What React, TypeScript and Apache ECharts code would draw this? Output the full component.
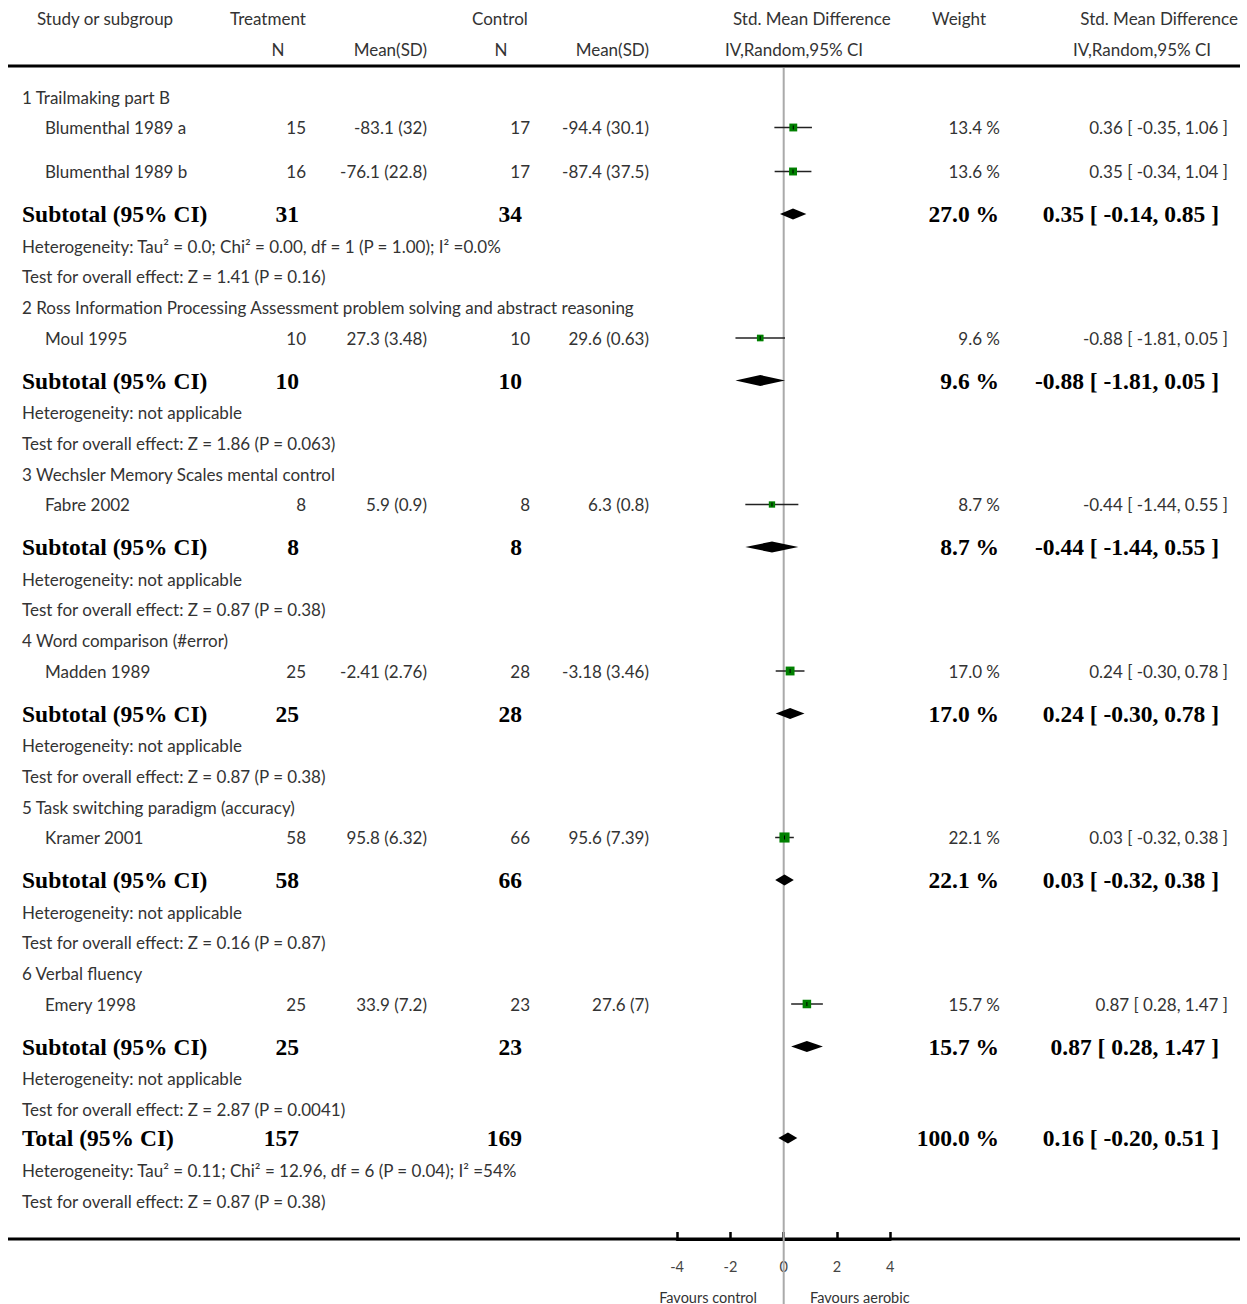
import React, { useEffect, useRef } from "react";
import * as echarts from "echarts";

// ---------- data ----------
const groupTitles = [
  "1 Trailmaking part B",
  "2 Ross Information Processing Assessment problem solving and abstract reasoning",
  "3 Wechsler Memory Scales mental control",
  "4 Word comparison (#error)",
  "5 Task switching paradigm (accuracy)",
  "6 Verbal fluency",
];
const studyNames = ["Blumenthal 1989 a", "Blumenthal 1989 b", "Moul 1995", "Fabre 2002", "Madden 1989", "Kramer 2001", "Emery 1998"];
const studyGroup = [0, 0, 1, 2, 3, 4, 5];
const treatN = [15, 16, 10, 8, 25, 58, 25];
const treatMeanSD = ["-83.1 (32)", "-76.1 (22.8)", "27.3 (3.48)", "5.9 (0.9)", "-2.41 (2.76)", "95.8 (6.32)", "33.9 (7.2)"];
const ctrlN = [17, 17, 10, 8, 28, 66, 23];
const ctrlMeanSD = ["-94.4 (30.1)", "-87.4 (37.5)", "29.6 (0.63)", "6.3 (0.8)", "-3.18 (3.46)", "95.6 (7.39)", "27.6 (7)"];
const studyEst = [0.36, 0.35, -0.88, -0.44, 0.24, 0.03, 0.87];
const studyLo = [-0.35, -0.34, -1.81, -1.44, -0.3, -0.32, 0.28];
const studyHi = [1.06, 1.04, 0.05, 0.55, 0.78, 0.38, 1.47];
const studyWeight = [13.4, 13.6, 9.6, 8.7, 17.0, 22.1, 15.7];

const subTreatN = [31, 10, 8, 25, 58, 25];
const subCtrlN = [34, 10, 8, 28, 66, 23];
const subWeight = [27.0, 9.6, 8.7, 17.0, 22.1, 15.7];
const subEst = [0.35, -0.88, -0.44, 0.24, 0.03, 0.87];
const subLo = [-0.14, -1.81, -1.44, -0.3, -0.32, 0.28];
const subHi = [0.85, 0.05, 0.55, 0.78, 0.38, 1.47];
const subHet = [
  "Heterogeneity: Tau² = 0.0; Chi² = 0.00, df = 1 (P = 1.00); I² =0.0%",
  "Heterogeneity: not applicable",
  "Heterogeneity: not applicable",
  "Heterogeneity: not applicable",
  "Heterogeneity: not applicable",
  "Heterogeneity: not applicable",
];
const subTest = [
  "Test for overall effect: Z = 1.41 (P = 0.16)",
  "Test for overall effect: Z = 1.86 (P = 0.063)",
  "Test for overall effect: Z = 0.87 (P = 0.38)",
  "Test for overall effect: Z = 0.87 (P = 0.38)",
  "Test for overall effect: Z = 0.16 (P = 0.87)",
  "Test for overall effect: Z = 2.87 (P = 0.0041)",
];

const totalTreatN = 157;
const totalCtrlN = 169;
const totalWeight = 100.0;
const totalEst = 0.16;
const totalLo = -0.2;
const totalHi = 0.51;
const totalHet = "Heterogeneity: Tau² = 0.11; Chi² = 12.96, df = 6 (P = 0.04); I² =54%";
const totalTest = "Test for overall effect: Z = 0.87 (P = 0.38)";

const axisMin = -4;
const axisMax = 4;
const axisInterval = 2;
const favoursLeft = "Favours control";
const favoursRight = "Favours aerobic";

// ---------- layout ----------
const SANS = "Lato, 'Noto Sans', sans-serif";
const SERIF = "'Liberation Serif', 'DejaVu Serif', serif";
const TXT = "#333";
const FS = 17;
const BFS = 23.5;

const fmt = (v: number) => v.toFixed(2);
const ciText = (e: number, l: number, h: number) => `${fmt(e)} [ ${fmt(l)}, ${fmt(h)} ]`;
const wText = (w: number) => `${w.toFixed(1)} %`;

type Row = { kind: string; y: number; idx: number };

function buildRows(): Row[] {
  const rows: Row[] = [];
  let y = 97;
  for (let g = 0; g < groupTitles.length; g++) {
    rows.push({ kind: "title", y, idx: g });
    y += 30.5;
    const ss = studyGroup.map((gg, i) => (gg === g ? i : -1)).filter((i) => i >= 0);
    ss.forEach((s, k) => {
      rows.push({ kind: "study", y, idx: s });
      y += k < ss.length - 1 ? 44 : 42.5;
    });
    rows.push({ kind: "sub", y, idx: g });
    y += 32;
    rows.push({ kind: "het", y, idx: g });
    y += 30.5;
    rows.push({ kind: "test", y, idx: g });
    y += g < groupTitles.length - 1 ? 31 : 29;
  }
  rows.push({ kind: "total", y, idx: 0 });
  y += 32;
  rows.push({ kind: "totalHet", y, idx: 0 });
  y += 31;
  rows.push({ kind: "totalTest", y, idx: 0 });
  return rows;
}

function txt(text: string, x: number, y: number, align: string, opts: any = {}) {
  return {
    type: "text",
    x,
    y,
    silent: true,
    style: {
      text,
      fontFamily: opts.bold ? SERIF : SANS,
      fontSize: opts.bold ? BFS : opts.fs || FS,
      fontWeight: opts.bold ? "bold" : "normal",
      fill: opts.bold ? "#000" : opts.color || TXT,
      align,
      verticalAlign: "middle",
    },
  };
}

export default function App() {
  const ref = useRef<HTMLDivElement>(null);
  useEffect(() => {
    if (!ref.current) return;
    const chart = echarts.init(ref.current, undefined, { renderer: "svg" });
    const rows = buildRows();
    const graphics: any[] = [];
    const marks: any[] = [];

    // headers
    graphics.push(txt("Study or subgroup", 37, 18, "left"));
    graphics.push(txt("Treatment", 230, 18, "left"));
    graphics.push(txt("Control", 472, 18, "left"));
    graphics.push(txt("Std. Mean Difference", 733, 18, "left"));
    graphics.push(txt("Weight", 932, 18, "left"));
    graphics.push(txt("Std. Mean Difference", 1238, 18, "right"));
    graphics.push(txt("N", 278, 49, "center"));
    graphics.push(txt("Mean(SD)", 427, 49, "right"));
    graphics.push(txt("N", 501, 49, "center"));
    graphics.push(txt("Mean(SD)", 649, 49, "right"));
    graphics.push(txt("IV,Random,95% CI", 725, 49, "left"));
    graphics.push(txt("IV,Random,95% CI", 1073, 49, "left"));

    for (const r of rows) {
      const y = r.y;
      const i = r.idx;
      if (r.kind === "title") graphics.push(txt(groupTitles[i], 22, y, "left"));
      else if (r.kind === "study") {
        graphics.push(txt(studyNames[i], 45, y, "left"));
        graphics.push(txt(String(treatN[i]), 306, y, "right"));
        graphics.push(txt(treatMeanSD[i], 427, y, "right"));
        graphics.push(txt(String(ctrlN[i]), 530, y, "right"));
        graphics.push(txt(ctrlMeanSD[i], 649, y, "right"));
        graphics.push(txt(wText(studyWeight[i]), 1000, y, "right"));
        graphics.push(txt(ciText(studyEst[i], studyLo[i], studyHi[i]), 1228, y, "right"));
        marks.push([studyEst[i], y, studyLo[i], studyHi[i], studyWeight[i], 0]);
      } else if (r.kind === "sub") {
        graphics.push(txt("Subtotal (95% CI)", 22, y, "left", { bold: true }));
        graphics.push(txt(String(subTreatN[i]), 299, y, "right", { bold: true }));
        graphics.push(txt(String(subCtrlN[i]), 522, y, "right", { bold: true }));
        graphics.push(txt(wText(subWeight[i]), 999, y, "right", { bold: true }));
        graphics.push(txt(ciText(subEst[i], subLo[i], subHi[i]), 1219, y, "right", { bold: true }));
        marks.push([subEst[i], y, subLo[i], subHi[i], subWeight[i], 1]);
      } else if (r.kind === "het") graphics.push(txt(subHet[i], 22, y, "left"));
      else if (r.kind === "test") graphics.push(txt(subTest[i], 22, y, "left"));
      else if (r.kind === "total") {
        graphics.push(txt("Total (95% CI)", 22, y, "left", { bold: true }));
        graphics.push(txt(String(totalTreatN), 299, y, "right", { bold: true }));
        graphics.push(txt(String(totalCtrlN), 522, y, "right", { bold: true }));
        graphics.push(txt(wText(totalWeight), 999, y, "right", { bold: true }));
        graphics.push(txt(ciText(totalEst, totalLo, totalHi), 1219, y, "right", { bold: true }));
        marks.push([totalEst, y, totalLo, totalHi, totalWeight, 1]);
      } else if (r.kind === "totalHet") graphics.push(txt(totalHet, 22, y, "left"));
      else if (r.kind === "totalTest") graphics.push(txt(totalTest, 22, y, "left"));
    }

    graphics.push({ type: "line", silent: true, shape: { x1: 8, y1: 66, x2: 1240, y2: 66 }, style: { stroke: "#000", lineWidth: 3 } });
    graphics.push({ type: "line", silent: true, shape: { x1: 8, y1: 1239, x2: 1240, y2: 1239 }, style: { stroke: "#000", lineWidth: 3 } });
    graphics.push(txt(favoursLeft, 757, 1297, "right", { fs: 14.5 }));
    graphics.push(txt(favoursRight, 810, 1297, "left", { fs: 14.5 }));

    chart.setOption({
      animation: false,
      grid: { left: 677.1, right: 356.7, top: 0, bottom: 65 },
      xAxis: {
        type: "value",
        position: "bottom",
        min: axisMin,
        max: axisMax,
        interval: axisInterval,
        axisLine: { show: true, onZero: false, lineStyle: { color: "#000", width: 3 } },
        axisTick: { show: true, inside: true, length: 7, lineStyle: { color: "#000", width: 2.5 } },
        axisLabel: { fontSize: 14.5, color: "#444", margin: 20, fontFamily: SANS },
        splitLine: { show: false },
      },
      yAxis: { type: "value", min: 0, max: 1239, inverse: true, show: false },
      graphic: graphics,
      series: [
        {
          type: "custom",
          clip: false,
          silent: true,
          z: 1,
          data: [[0]],
          renderItem: (_p: any, api: any) => {
            const top = api.coord([0, 68]);
            const bot = api.coord([0, 1304]);
            return {
              type: "line",
              shape: { x1: top[0], y1: top[1], x2: bot[0], y2: bot[1] },
              style: { stroke: "#aaa", lineWidth: 2 },
            };
          },
        },
        {
          type: "custom",
          clip: false,
          silent: true,
          z: 3,
          data: marks,
          renderItem: (_p: any, api: any) => {
            const est = api.value(0);
            const y = api.value(1);
            const lo = api.value(2);
            const hi = api.value(3);
            const w = api.value(4);
            const kind = api.value(5);
            const p = api.coord([est, y]);
            const pl = api.coord([lo, y]);
            const ph = api.coord([hi, y]);
            if (kind === 0) {
              const s = 2.15 * Math.sqrt(w);
              return {
                type: "group",
                children: [
                  { type: "line", shape: { x1: pl[0], y1: pl[1], x2: ph[0], y2: ph[1] }, style: { stroke: "#222", lineWidth: 1.5 } },
                  { type: "rect", shape: { x: p[0] - s / 2, y: p[1] - s / 2, width: s, height: s }, style: { fill: "#008000" } },
                  { type: "line", shape: { x1: p[0], y1: p[1] - 2, x2: p[0], y2: p[1] + 2 }, style: { stroke: "#000", lineWidth: 1 } },
                ],
              };
            }
            return {
              type: "polygon",
              shape: { points: [[pl[0], pl[1]], [p[0], p[1] - 5.5], [ph[0], ph[1]], [p[0], p[1] + 5.5]] },
              style: { fill: "#000" },
            };
          },
        },
      ],
    });
    return () => chart.dispose();
  }, []);
  return <div ref={ref} style={{ position: "absolute", left: 0, top: 0, width: 1247, height: 1304, background: "#fff" }} />;
}
